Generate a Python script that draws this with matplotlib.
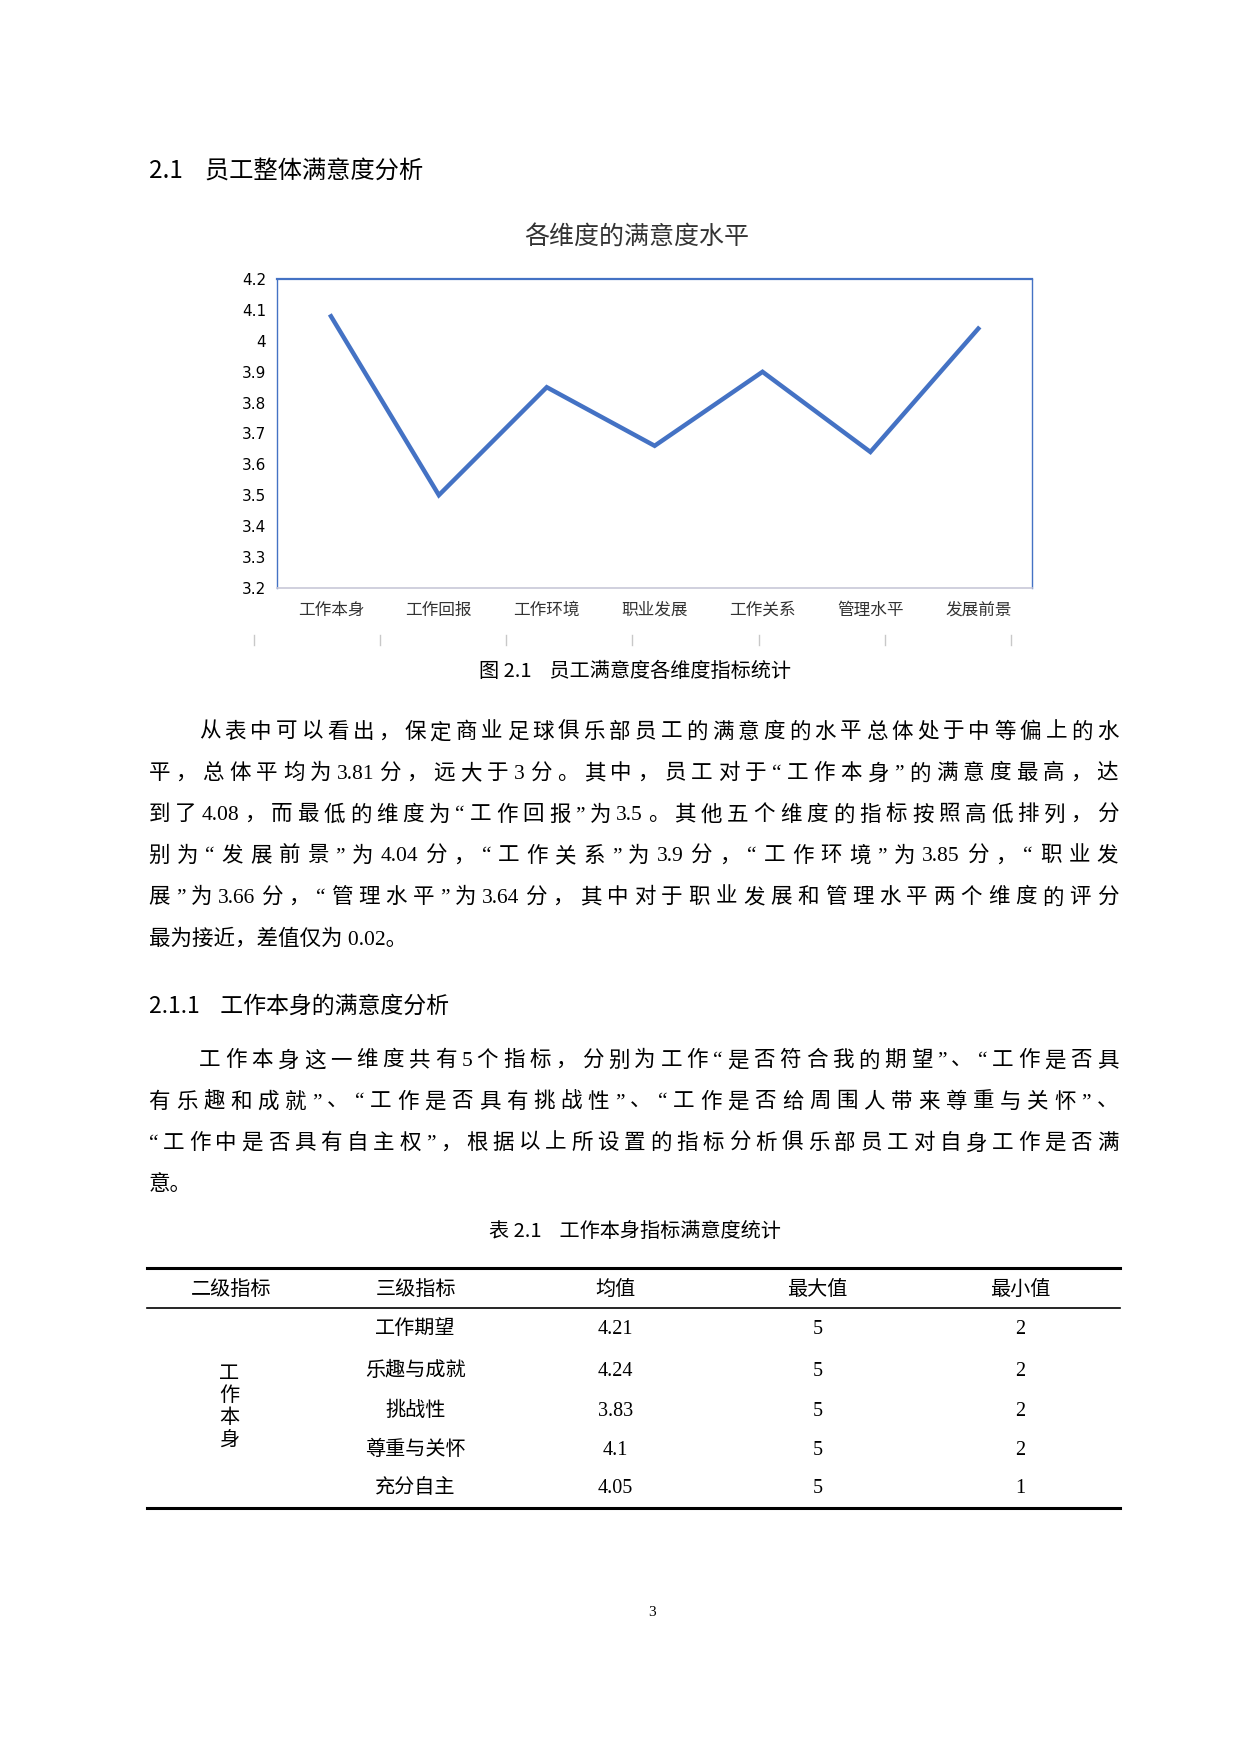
import re
import matplotlib
matplotlib.use("Agg")
import matplotlib.pyplot as plt
from matplotlib.lines import Line2D

categories = ["工作本身", "工作回报", "工作环境", "职业发展", "工作关系", "管理水平", "发展前景"]
values = [4.08, 3.5, 3.85, 3.66, 3.9, 3.64, 4.04]
yticks = [3.2, 3.3, 3.4, 3.5, 3.6, 3.7, 3.8, 3.9, 4.0, 4.1, 4.2]
ytick_labels = ["3.2", "3.3", "3.4", "3.5", "3.6", "3.7", "3.8", "3.9", "4", "4.1", "4.2"]

tbl_header = ["二级指标", "三级指标", "均值", "最大值", "最小值"]
tbl_items = ["工作期望", "乐趣与成就", "挑战性", "尊重与关怀", "充分自主"]
tbl_mean = ["4.21", "4.24", "3.83", "4.1", "4.05"]
tbl_max = ["5", "5", "5", "5", "5"]
tbl_min = ["2", "2", "2", "2", "1"]

W, H = 1110.0, 1570.0
SANS = ["Noto Sans CJK SC", "DejaVu Sans"]
SERIF = ["Liberation Serif", "Noto Sans CJK SC"]

fig = plt.figure(figsize=(12.4, 17.54), dpi=100)
renderer = fig.canvas.get_renderer()

def T(x, y, s, size=15.5, fam=SERIF, ha="left", va="center", **kw):
    return fig.text(x / W, 1 - y / H, s, fontsize=size, family=fam, ha=ha, va=va, **kw)

def HL(x0, x1, y, lw):
    fig.add_artist(Line2D([x0 / W, x1 / W], [1 - y / H, 1 - y / H], color="black", lw=lw, transform=fig.transFigure))

def justify(x0, x1, y, s, size=15.5):
    toks = re.findall(r"[A-Za-z0-9.]+|\s+|.", s)
    toks = [t for t in toks if not t.isspace()] if True else toks
    arts, widths = [], []
    for t in toks:
        a = T(x0, y, t, size=size)
        w = a.get_window_extent(renderer).width * W / 1240.0
        arts.append(a); widths.append(w)
    gap = (x1 - x0 - sum(widths)) / max(len(toks) - 1, 1)
    cx = x0
    for a, w in zip(arts, widths):
        a.set_x(cx / W)
        cx += w + gap

T(133, 153, "2.1    员工整体满意度分析", size=17.5, fam=SANS)
T(570, 212, "各维度的满意度水平", size=18, fam=SANS, ha="center", color="#333333")

ax = fig.add_axes([248 / W, 1 - 526 / H, (924 - 248) / W, (526 - 250) / H])
x = list(range(len(categories)))
ax.plot(x, values, color="#4472C4", lw=3.2, solid_joinstyle="miter")
ax.set_xlim(-0.5, len(categories) - 0.5)
ax.set_ylim(3.2, 4.2)
ax.set_yticks(yticks)
ax.set_yticklabels(ytick_labels, fontsize=11, family="DejaVu Sans")
ax.set_xticks(x)
ax.set_xticklabels(categories, fontsize=12, family=SANS, color="#333333")
ax.tick_params(length=0, pad=8)
ax.tick_params(axis="x", pad=10)
for s in ["left", "right", "top"]:
    ax.spines[s].set_color("#4472C4")
    ax.spines[s].set_linewidth(1.0)
ax.spines["top"].set_linewidth(1.6)
ax.spines["bottom"].set_color("#C8C8D8")
ax.spines["bottom"].set_linewidth(1.2)
for i in range(7):
    xx = 227 + i * 113
    fig.add_artist(Line2D([xx / W] * 2, [1 - 568 / H, 1 - 577 / H], color="#C8C8C8", lw=1, transform=fig.transFigure))

T(568, 601, "图 2.1    员工满意度各维度指标统计", size=14.5, fam=SANS, ha="center")

body = [
    (178, 656, "从表中可以看出，保定商业足球俱乐部员工的满意度的水平总体处于中等偏上的水", True),
    (133, 693, "平，总体平均为 3.81 分，远大于 3 分。其中，员工对于“工作本身”的满意度最高，达", True),
    (133, 730, "到了 4.08，而最低的维度为“工作回报”为 3.5。其他五个维度的指标按照高低排列，分", True),
    (133, 767, "别为“发展前景”为 4.04 分，“工作关系”为 3.9 分，“工作环境”为 3.85 分，“职业发", True),
    (133, 804, "展”为 3.66 分，“管理水平”为 3.64 分，其中对于职业发展和管理水平两个维度的评分", True),
    (133, 841, "最为接近，差值仅为 0.02。", False),
    (178, 950, "工作本身这一维度共有 5 个指标，分别为工作“是否符合我的期望”、“工作是否具", True),
    (133, 987, "有乐趣和成就”、“工作是否具有挑战性”、“工作是否给周围人带来尊重与关怀”、", True),
    (133, 1024, "“工作中是否具有自主权”，根据以上所设置的指标分析俱乐部员工对自身工作是否满", True),
    (133, 1061, "意。", False),
]
for bx, by, s, j in body:
    if j:
        justify(bx, 1001, by, s)
    else:
        T(bx, by, s)

T(133, 901, "2.1.1    工作本身的满意度分析", size=16.5, fam=SANS)

T(568, 1102, "表 2.1    工作本身指标满意度统计", size=14.5, fam=SANS, ha="center")

HL(132, 1003, 1135, 2.2)
HL(132, 1003, 1171, 1.2)
HL(132, 1003, 1350, 2.2)
cols = [207, 372, 551, 732, 913]
for cx, h in zip(cols, tbl_header):
    T(cx, 1155, h, size=14.5, ha="center")
rows_y = [1190, 1228, 1263, 1298, 1332]
for i, ry in enumerate(rows_y):
    T(cols[1], ry, tbl_items[i], size=14.5, ha="center")
    T(cols[2], ry, tbl_mean[i], size=14.5, ha="center")
    T(cols[3], ry, tbl_max[i], size=14.5, ha="center")
    T(cols[4], ry, tbl_min[i], size=14.5, ha="center")
for j, ch in enumerate("工作本身"):
    T(205, 1230 + j * 20, ch, size=14.5, ha="center")

T(584, 1443, "3", size=11, ha="center")

fig.savefig("out.png", dpi=100)
